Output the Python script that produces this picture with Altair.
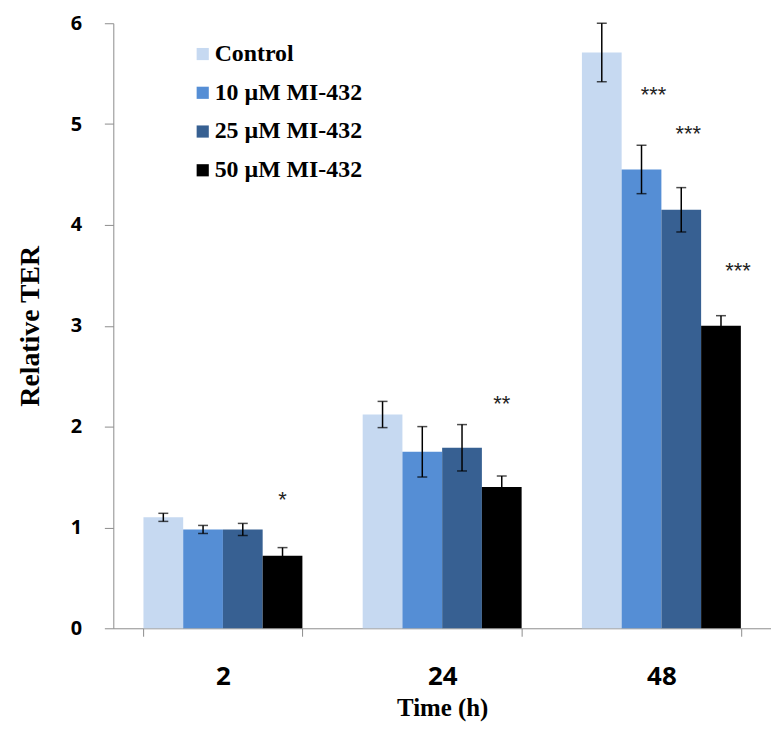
import altair as alt
import pandas as pd

times = ["2", "24", "48"]
series = ["Control", "10 µM MI-432", "25 µM MI-432", "50 µM MI-432"]
colors = ["#c6d9f1", "#558ed5", "#376092", "#000000"]

means_control = [1.10, 2.12, 5.71]
means_10 = [0.98, 1.75, 4.55]
means_25 = [0.98, 1.79, 4.15]
means_50 = [0.72, 1.40, 3.00]

err_control = [0.04, 0.13, 0.29]
err_10 = [0.04, 0.25, 0.24]
err_25 = [0.06, 0.23, 0.22]
err_50 = [0.08, 0.11, 0.10]

ann_time = ["2", "24", "48", "48", "48"]
ann_series = ["50 µM MI-432", "50 µM MI-432", "10 µM MI-432", "25 µM MI-432", "50 µM MI-432"]
ann_text = ["*", "**", "***", "***", "***"]
ann_y = [1.30, 2.25, 5.32, 4.93, 3.57]

# pixel nudges for the annotations (style only)
ann_dx = [0, 0, 12, 7, 17]

all_means = [means_control, means_10, means_25, means_50]
all_errs = [err_control, err_10, err_25, err_50]

rows = []
for s, m, e in zip(series, all_means, all_errs):
    for t, mv, ev in zip(times, m, e):
        rows.append({"time": t, "series": s, "mean": mv, "lo": mv - ev, "hi": mv + ev})
df = pd.DataFrame(rows)

ann_df = pd.DataFrame({"time": ann_time, "series": ann_series, "text": ann_text, "y": ann_y})

x_enc = alt.X(
    "time:N",
    sort=times,
    scale=alt.Scale(paddingInner=0.275, paddingOuter=0.1375),
    axis=alt.Axis(
        title="Time (h)",
        labelAngle=0,
        tickBand="extent",
        domainColor="#8c8c8c",
        tickColor="#8c8c8c",
        tickSize=8,
        labelFont="Open Sans",
        labelFontWeight="bold",
        labelFontSize=26,
        labelColor="#000000",
        labelPadding=28,
        titleFont="Liberation Serif",
        titleFontSize=25,
        titleFontWeight="bold",
        titleColor="#000000",
        titlePadding=6,
    ),
)
xo_enc = alt.XOffset("series:N", sort=series, scale=alt.Scale(paddingInner=0, paddingOuter=0))

y_scale = alt.Scale(domain=[0, 6], nice=False)

bars = alt.Chart(df).mark_bar().encode(
    x=x_enc,
    xOffset=xo_enc,
    y=alt.Y(
        "mean:Q",
        scale=y_scale,
        axis=alt.Axis(
            title="Relative TER",
            values=[0, 1, 2, 3, 4, 5, 6],
            format="d",
            grid=False,
            domainColor="#8c8c8c",
            tickColor="#8c8c8c",
            tickSize=9,
            labelFont="Open Sans",
            labelFontWeight="bold",
            labelFontSize=20,
            labelColor="#000000",
            labelPadding=23,
            titleFont="Liberation Serif",
            titleFontSize=28,
            titleFontWeight="bold",
            titleColor="#000000",
            titlePadding=26,
        ),
    ),
    color=alt.Color(
        "series:N",
        sort=series,
        scale=alt.Scale(domain=series, range=colors),
        legend=alt.Legend(
            orient="none",
            legendX=78,
            legendY=19,
            title=None,
            symbolType="square",
            symbolSize=150,
            symbolStrokeWidth=0,
            labelFont="Liberation Serif",
            labelFontSize=24,
            labelFontWeight="bold",
            labelColor="#000000",
            rowPadding=15,
            labelOffset=0,
        ),
    ),
)

rules = alt.Chart(df).mark_rule(color="black", strokeWidth=1.5).encode(
    x=alt.X("time:N", sort=times),
    xOffset=xo_enc,
    y=alt.Y("lo:Q", scale=y_scale),
    y2="hi:Q",
)
caps_lo = alt.Chart(df).mark_tick(color="black", thickness=1.5, size=10).encode(
    x=alt.X("time:N", sort=times),
    xOffset=xo_enc,
    y=alt.Y("lo:Q", scale=y_scale),
)
caps_hi = alt.Chart(df).mark_tick(color="black", thickness=1.5, size=10).encode(
    x=alt.X("time:N", sort=times),
    xOffset=xo_enc,
    y=alt.Y("hi:Q", scale=y_scale),
)

layers = [bars, rules, caps_lo, caps_hi]
for i in range(len(ann_text)):
    sub = ann_df.iloc[[i]]
    layers.append(
        alt.Chart(sub).mark_text(
            font="Liberation Sans", fontSize=22, color="#222222", dx=ann_dx[i], dy=3, baseline="middle"
        ).encode(
            x=alt.X("time:N", sort=times),
            xOffset=xo_enc,
            y=alt.Y("y:Q", scale=y_scale),
            text="text:N",
        )
    )

chart = (
    alt.layer(*layers)
    .properties(width=662, height=609, padding={"left": 8, "top": 3, "right": 0, "bottom": 0})
    .configure_view(stroke=None)
)

chart.save("out.html", embed_options={"renderer": "svg", "actions": False})
